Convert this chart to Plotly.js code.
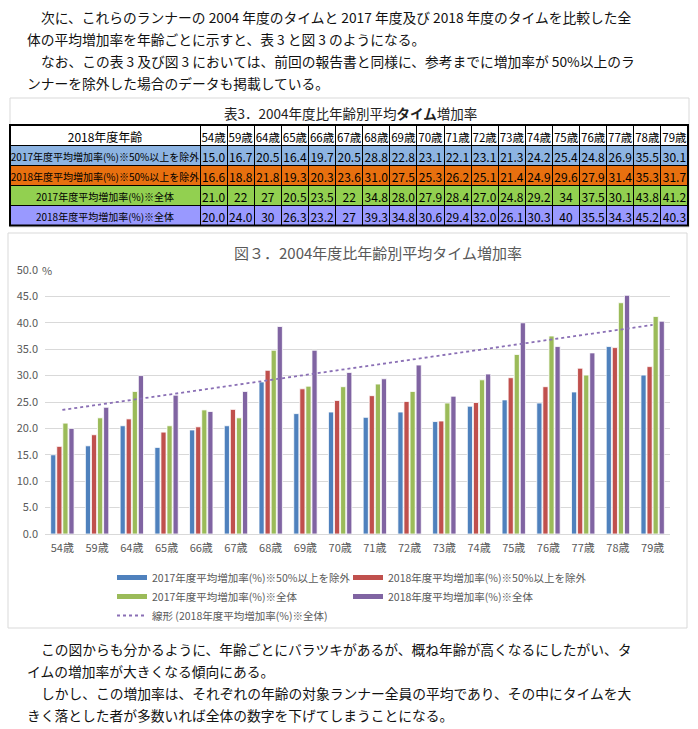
<!DOCTYPE html>
<html><head><meta charset="utf-8">
<script src="https://cdn.plot.ly/plotly-3.0.1.min.js"></script>
<style>html,body{margin:0;padding:0;background:#fff;}#chart{width:698px;height:729px;}</style>
</head><body><div id="chart"></div>
<script>
// ---- data ----
const ages = ['54歳','59歳','64歳','65歳','66歳','67歳','68歳','69歳','70歳','71歳','72歳','73歳','74歳','75歳','76歳','77歳','78歳','79歳'];
const excl2017 = ['15.0','16.7','20.5','16.4','19.7','20.5','28.8','22.8','23.1','22.1','23.1','21.3','24.2','25.4','24.8','26.9','35.5','30.1'];
const excl2018 = ['16.6','18.8','21.8','19.3','20.3','23.6','31.0','27.5','25.3','26.2','25.1','21.4','24.9','29.6','27.9','31.4','35.3','31.7'];
const all2017  = ['21.0','22','27','20.5','23.5','22','34.8','28.0','27.9','28.4','27.0','24.8','29.2','34','37.5','30.1','43.8','41.2'];
const all2018  = ['20.0','24.0','30','26.3','23.2','27','39.3','34.8','30.6','29.4','32.0','26.1','30.3','40','35.5','34.3','45.2','40.3'];
const trendEnds = [23.5, 39.6];   // 線形近似の両端
const tableHeaderLabel = '2018年度年齢';
const rowLabels = ['2017年度平均増加率(%)※50%以上を除外','2018年度平均増加率(%)※50%以上を除外','2017年度平均増加率(%)※全体','2018年度平均増加率(%)※全体'];
const legendNames = ['2017年度平均増加率(%)※50%以上を除外','2018年度平均増加率(%)※50%以上を除外','2017年度平均増加率(%)※全体','2018年度平均増加率(%)※全体'];
const trendName = '線形 (2018年度平均増加率(%)※全体)';
const tableTitle = '表3．2004年度比年齢別平均<b>タイム</b>増加率';
const chartTitle = '図３．2004年度比年齢別平均タイム増加率';
const topText = [
  '次に、これらのランナーの 2004 年度のタイムと 2017 年度及び 2018 年度のタイムを比較した全',
  '体の平均増加率を年齢ごとに示すと、表 3 と図 3 のようになる。',
  'なお、この表 3 及び図 3 においては、前回の報告書と同様に、参考までに増加率が 50%以上のラ',
  'ンナーを除外した場合のデータも掲載している。'
];
const bottomText = [
  'この図からも分かるように、年齢ごとにバラツキがあるが、概ね年齢が高くなるにしたがい、タ',
  'イムの増加率が大きくなる傾向にある。',
  'しかし、この増加率は、それぞれの年齢の対象ランナー全員の平均であり、その中にタイムを大',
  'きく落とした者が多数いれば全体の数字を下げてしまうことになる。'
];

// ---- styling ----
const W = 698, H = 729;
const X = px => px / W, Y = py => 1 - py / H;
const FONT = '"Noto Sans CJK JP", "Noto Sans", sans-serif';
const GRAY = '#595959';
const barColors = ['#4F81BD', '#C0504D', '#9BBB59', '#8064A2'];
const rowFills = ['#8DB4E2', '#E8700F', '#92D050', '#9999FF'];
const seriesText = [excl2017, excl2018, all2017, all2018];

const traces = [];
// table
traces.push({
  type: 'table',
  domain: {x: [X(10), X(688)], y: [Y(226), Y(125)]},
  columnwidth: [190].concat(ages.map(() => 27.1)),
  header: {
    values: [tableHeaderLabel].concat(ages),
    height: 20, align: 'center',
    fill: {color: 'white'}, line: {color: 'black', width: 1},
    font: {family: FONT, size: [12, 11.5], color: 'black'}
  },
  cells: {
    values: [rowLabels].concat(ages.map((a, i) => seriesText.map(s => s[i]))),
    height: 20, align: 'center',
    fill: {color: [rowFills]}, line: {color: 'black', width: 1},
    font: {family: FONT, size: [10, 12], color: 'black'}
  }
});
// bars
seriesText.forEach((s, k) => {
  traces.push({
    type: 'bar', x: ages, y: s.map(parseFloat), name: legendNames[k],
    legendgroup: 'g' + k, showlegend: false,
    marker: {color: barColors[k], line: {color: 'white', width: 0.8}},
    xaxis: 'x', yaxis: 'y'
  });
});
// trend line
const trendTrace = {
  type: 'scatter', mode: 'lines', x: [ages[0], ages[ages.length - 1]], y: trendEnds,
  name: trendName, line: {color: '#8A6FB5', width: 1.8, dash: 'dot'}, legend: 'legend',
  xaxis: 'x', yaxis: 'y'
};
// legend keys (wide bar-like keys)
const key = (k, lg) => ({
  type: 'scatter', mode: 'lines', x: [null], y: [null], name: legendNames[k],
  legendgroup: 'g' + k, legend: lg, line: {color: barColors[k], width: 5},
  xaxis: 'x', yaxis: 'y', hoverinfo: 'skip'
});
traces.push(key(0, 'legend'), key(2, 'legend'), trendTrace, key(1, 'legend2'), key(3, 'legend2'));

// annotations
const ann = [];
const para = (lines, y0) => lines.forEach((t, i) => ann.push({
  xref: 'paper', yref: 'paper', x: X(i % 2 === 0 ? 39 : 25), y: Y(y0 + i * 22),
  xanchor: 'left', yanchor: 'middle', showarrow: false, text: t,
  font: {family: FONT, size: 13.75, color: '#111'}
}));
para(topText, 17);
para(bottomText, 649);
ann.push({xref: 'paper', yref: 'paper', x: X(350), y: Y(113), xanchor: 'center', yanchor: 'middle',
  showarrow: false, text: tableTitle, font: {family: FONT, size: 13.5, color: '#222'}});
ann.push({xref: 'paper', yref: 'paper', x: X(378), y: Y(252), xanchor: 'center', yanchor: 'middle',
  showarrow: false, text: chartTitle, font: {family: FONT, size: 15, color: GRAY}});
ann.push({xref: 'paper', yref: 'paper', x: X(40), y: Y(270), xanchor: 'left', yanchor: 'middle',
  showarrow: false, text: '%', font: {family: FONT, size: 11, color: GRAY}});

const shapes = [
  {type: 'rect', xref: 'paper', yref: 'paper', x0: X(10), x1: X(689), y0: Y(98), y1: Y(227),
   line: {color: '#D9D9D9', width: 1}, layer: 'below'},
  {type: 'rect', xref: 'paper', yref: 'paper', x0: X(10), x1: X(688), y0: Y(125), y1: Y(225.5),
   line: {color: 'black', width: 2}, layer: 'above'},
  {type: 'rect', xref: 'paper', yref: 'paper', x0: X(8), x1: X(687), y0: Y(233), y1: Y(628),
   line: {color: '#D9D9D9', width: 1}, layer: 'below'}
];

const legendFont = {family: FONT, size: 10.5, color: GRAY};
const layout = {
  width: W, height: H, margin: {l: 0, r: 0, t: 0, b: 0, autoexpand: false},
  paper_bgcolor: 'white', plot_bgcolor: 'rgba(0,0,0,0)',
  font: {family: FONT},
  barmode: 'group', bargap: 0.3, bargroupgap: 0.15,
  xaxis: {domain: [X(45), X(670)], anchor: 'y', type: 'category', showgrid: false,
    showline: true, linecolor: '#D9D9D9', ticks: '', ticklabelstandoff: 4,
    tickfont: {family: FONT, size: 11, color: GRAY}, fixedrange: true},
  yaxis: {domain: [Y(534), Y(270)], anchor: 'x', range: [0, 50], tick0: 0, dtick: 5,
    tickformat: '.1f', gridcolor: '#D9D9D9', zeroline: false, ticks: '', showline: false,
    ticklabelstandoff: 6, tickfont: {family: FONT, size: 11, color: GRAY}, fixedrange: true},
  showlegend: true,
  legend: {x: X(112), y: Y(563), xanchor: 'left', yanchor: 'top', orientation: 'v',
    font: legendFont, bgcolor: 'rgba(0,0,0,0)', traceorder: 'normal', itemwidth: 30},
  legend2: {x: X(348), y: Y(563), xanchor: 'left', yanchor: 'top', orientation: 'v',
    font: legendFont, bgcolor: 'rgba(0,0,0,0)', traceorder: 'normal', itemwidth: 30},
  annotations: ann, shapes: shapes
};
Plotly.newPlot('chart', traces, layout, {displayModeBar: false, staticPlot: true});
</script></body></html>
